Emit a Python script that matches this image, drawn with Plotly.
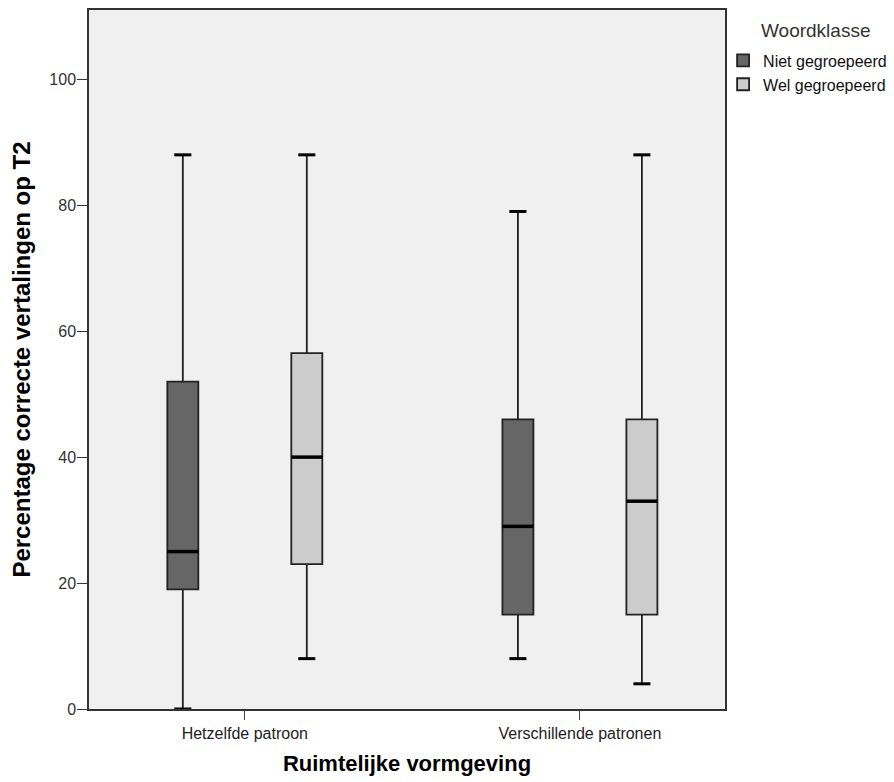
import plotly.graph_objects as go

categories = ["Hetzelfde patroon", "Verschillende patronen"]
series_names = ["Niet gegroepeerd", "Wel gegroepeerd"]

# five-number summaries per series (one value per category)
niet_low = [0, 8]
niet_q1 = [19, 15]
niet_med = [25, 29]
niet_q3 = [52, 46]
niet_high = [88, 79]

wel_low = [8, 4]
wel_q1 = [23, 15]
wel_med = [40, 33]
wel_q3 = [56.5, 46]
wel_high = [88, 88]

y_ticks = [0, 20, 40, 60, 80, 100]

colors = ["#666666", "#CCCCCC"]
FONT = "Liberation Sans, Arial, sans-serif"

BOXGAP = 0.26
BOXGROUPGAP = 0.75
CAP_FRACTION = 0.55

fig = go.Figure()
stats = [
    (niet_low, niet_q1, niet_med, niet_q3, niet_high),
    (wel_low, wel_q1, wel_med, wel_q3, wel_high),
]
for name, color, (lo, q1, med, q3, hi) in zip(series_names, colors, stats):
    fig.add_trace(go.Box(
        name=name,
        x=categories,
        lowerfence=lo, q1=q1, median=med, q3=q3, upperfence=hi,
        fillcolor=color,
        line=dict(color="#222222", width=1.8),
        whiskerwidth=0,
        boxpoints=False,
        hoverinfo="skip",
    ))

# thick median lines and whisker caps, positioned with the same grouping rule as the boxes
n = len(series_names)
slot = (1 - BOXGAP) / n
half_w = slot * (1 - BOXGROUPGAP) / 2
for si, (lo, q1, med, q3, hi) in enumerate(stats):
    off = -(1 - BOXGAP) / 2 + slot * (si + 0.5)
    for ci in range(len(categories)):
        c = ci + off
        fig.add_shape(type="line", xref="x", yref="y",
                      x0=c - half_w, x1=c + half_w, y0=med[ci], y1=med[ci],
                      line=dict(color="black", width=3.5))
        for v in (lo[ci], hi[ci]):
            fig.add_shape(type="line", xref="x", yref="y",
                          x0=c - half_w * CAP_FRACTION, x1=c + half_w * CAP_FRACTION,
                          y0=v, y1=v,
                          line=dict(color="black", width=3))

fig.add_annotation(
    text="Woordklasse", xref="paper", yref="paper",
    x=1.053, y=0.970, xanchor="left", yanchor="middle", showarrow=False,
    font=dict(size=19, color="#333333", family=FONT),
)

fig.update_layout(
    width=894, height=782,
    margin=dict(l=89, r=169, t=10, b=73, autoexpand=False),
    paper_bgcolor="white",
    plot_bgcolor="#F0F0F0",
    boxmode="group",
    boxgap=BOXGAP,
    boxgroupgap=BOXGROUPGAP,
    font=dict(family=FONT, color="#333333", size=13),
    showlegend=True,
    legend=dict(
        x=0.997, y=0.952, xanchor="left", yanchor="top",
        font=dict(size=16, color="#111111", family=FONT),
        itemwidth=30,
        tracegroupgap=0,
        bgcolor="rgba(0,0,0,0)",
    ),
    xaxis=dict(
        type="category",
        range=[-0.465, 1.433],
        showline=True, linecolor="#333333", linewidth=1.5, mirror=True,
        ticks="outside", ticklen=9, tickcolor="#444444",
        tickfont=dict(size=16, color="#222222"),
        ticklabelstandoff=0,
        showgrid=False, zeroline=False,
        automargin=False,
        title=dict(text="Ruimtelijke vormgeving",
                   font=dict(size=22, family=FONT, color="black", weight="bold"),
                   standoff=15),
    ),
    yaxis=dict(
        range=[0, 111],
        tickvals=y_ticks,
        showline=True, linecolor="#333333", linewidth=1.5, mirror=True,
        ticks="outside", ticklen=10, tickcolor="#333333",
        tickfont=dict(size=16, color="#333333"),
        ticklabelstandoff=-2,
        showgrid=False, zeroline=False,
        automargin=False,
        title=dict(text="Percentage correcte vertalingen op T2",
                   font=dict(size=24, family=FONT, color="black", weight="bold"),
                   standoff=12),
    ),
)

fig.write_html("out.html", config={"displayModeBar": False},
               post_script="document.body.style.margin='0px';")
